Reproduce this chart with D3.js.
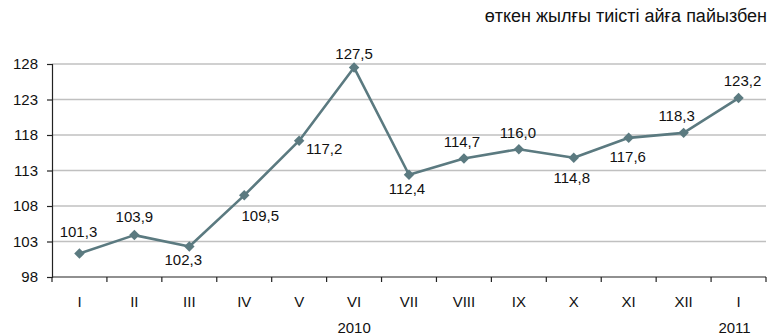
<!DOCTYPE html>
<html>
<head>
<meta charset="utf-8">
<script src="https://cdn.jsdelivr.net/npm/d3@7/dist/d3.min.js"></script>
<style>
  html, body { margin: 0; padding: 0; background: #fff; }
  svg text { font-family: "Liberation Sans", Arial, sans-serif; fill: #111; }
</style>
</head>
<body>
<svg id="chart" width="776" height="336"></svg>
<script>
// Monthly index, % of the same month of the previous year
const months = ["I", "II", "III", "IV", "V", "VI", "VII", "VIII", "IX", "X", "XI", "XII", "I "];
const values = [101.3, 103.9, 102.3, 109.5, 117.2, 127.5, 112.4, 114.7, 116.0, 114.8, 117.6, 118.3, 123.2];
const yTicks = [98, 103, 108, 113, 118, 123, 128];
const years = [{ label: "2010", month: "VI", dx: 0 }, { label: "2011", month: "I ", dx: -4 }];
const title = "өткен жылғы тиісті айға пайызбен";

// Value label placement relative to each point (dx, dy of the text centre)
const labelOffsets = [
  [-1, -22], [0, -18], [-6, 13], [16, 20], [25, 8], [0, -14],
  [-2, 14], [-2, -17], [-1, -16], [-2, 20], [-1, 19], [-7, -17], [4, -17]
];

const svg = d3.select("#chart");
const left = 52, right = 766, FONT = "15px";

const x = d3.scaleBand().domain(months).range([left, right]).paddingInner(0).paddingOuter(0);
const y = d3.scaleLinear().domain([98, 128]).range([277, 64]);

// Horizontal gridlines
svg.append("g")
  .selectAll("line")
  .data(yTicks.filter(t => t !== 98))
  .join("line")
  .attr("x1", left).attr("x2", right)
  .attr("y1", d => y(d)).attr("y2", d => y(d))
  .attr("stroke", "#c0c0c0").attr("stroke-width", 1.6);

// Y axis
const yAxis = svg.append("g")
  .attr("transform", `translate(${left},0)`)
  .call(d3.axisLeft(y).tickValues(yTicks).tickSize(5).tickPadding(9).tickFormat(d3.format("d")));
yAxis.select(".domain").attr("stroke", "#222").attr("stroke-width", 1.2);
yAxis.selectAll(".tick line").attr("stroke", "#222").attr("stroke-width", 1.2);
yAxis.selectAll("text").style("font-size", FONT).attr("fill", "#111");

// X axis with boundary ticks between categories
const xAxisG = svg.append("g").attr("transform", `translate(0,${y(98)})`);
xAxisG.append("line")
  .attr("x1", left).attr("x2", right)
  .attr("stroke", "#222").attr("stroke-width", 1.2);
const boundaries = months.map(m => x(m)).concat([x(months[months.length - 1]) + x.bandwidth()]);
xAxisG.selectAll("line.tk")
  .data(boundaries)
  .join("line").attr("class", "tk")
  .attr("x1", d => d).attr("x2", d => d)
  .attr("y1", 0).attr("y2", 5)
  .attr("stroke", "#222").attr("stroke-width", 1.2);
xAxisG.selectAll("text")
  .data(months)
  .join("text")
  .attr("x", d => x(d) + x.bandwidth() / 2)
  .attr("y", 25)
  .attr("dy", "0.35em")
  .attr("text-anchor", "middle")
  .style("font-size", FONT)
  .text(d => d.trim());

// Year labels
svg.selectAll("text.year")
  .data(years)
  .join("text").attr("class", "year")
  .attr("x", d => x(d.month) + x.bandwidth() / 2 + d.dx)
  .attr("y", 328)
  .attr("dy", "0.35em")
  .attr("text-anchor", "middle")
  .style("font-size", FONT)
  .text(d => d.label);

// Title
svg.append("text")
  .attr("x", 767).attr("y", 22)
  .attr("text-anchor", "end")
  .style("font-size", "18px")
  .text(title);

const pts = months.map((m, i) => ({ m, v: values[i], i }));
const cx = d => x(d.m) + x.bandwidth() / 2;

// Series line
svg.append("path")
  .datum(pts)
  .attr("fill", "none")
  .attr("stroke", "#5b7a80")
  .attr("stroke-width", 2.6)
  .attr("stroke-linejoin", "round")
  .attr("d", d3.line().x(cx).y(d => y(d.v)));

// Diamond markers
svg.selectAll("path.mk")
  .data(pts)
  .join("path").attr("class", "mk")
  .attr("transform", d => `translate(${cx(d)},${y(d.v)})`)
  .attr("d", d3.symbol().type(d3.symbolDiamond2).size(70))
  .attr("fill", "#5b7a80");

// Value labels
svg.selectAll("text.val")
  .data(pts)
  .join("text").attr("class", "val")
  .attr("x", d => cx(d) + labelOffsets[d.i][0])
  .attr("y", d => y(d.v) + labelOffsets[d.i][1])
  .attr("dy", "0.35em")
  .attr("text-anchor", "middle")
  .style("font-size", FONT)
  .text(d => d3.format(".1f")(d.v).replace(".", ","));
</script>
</body>
</html>
